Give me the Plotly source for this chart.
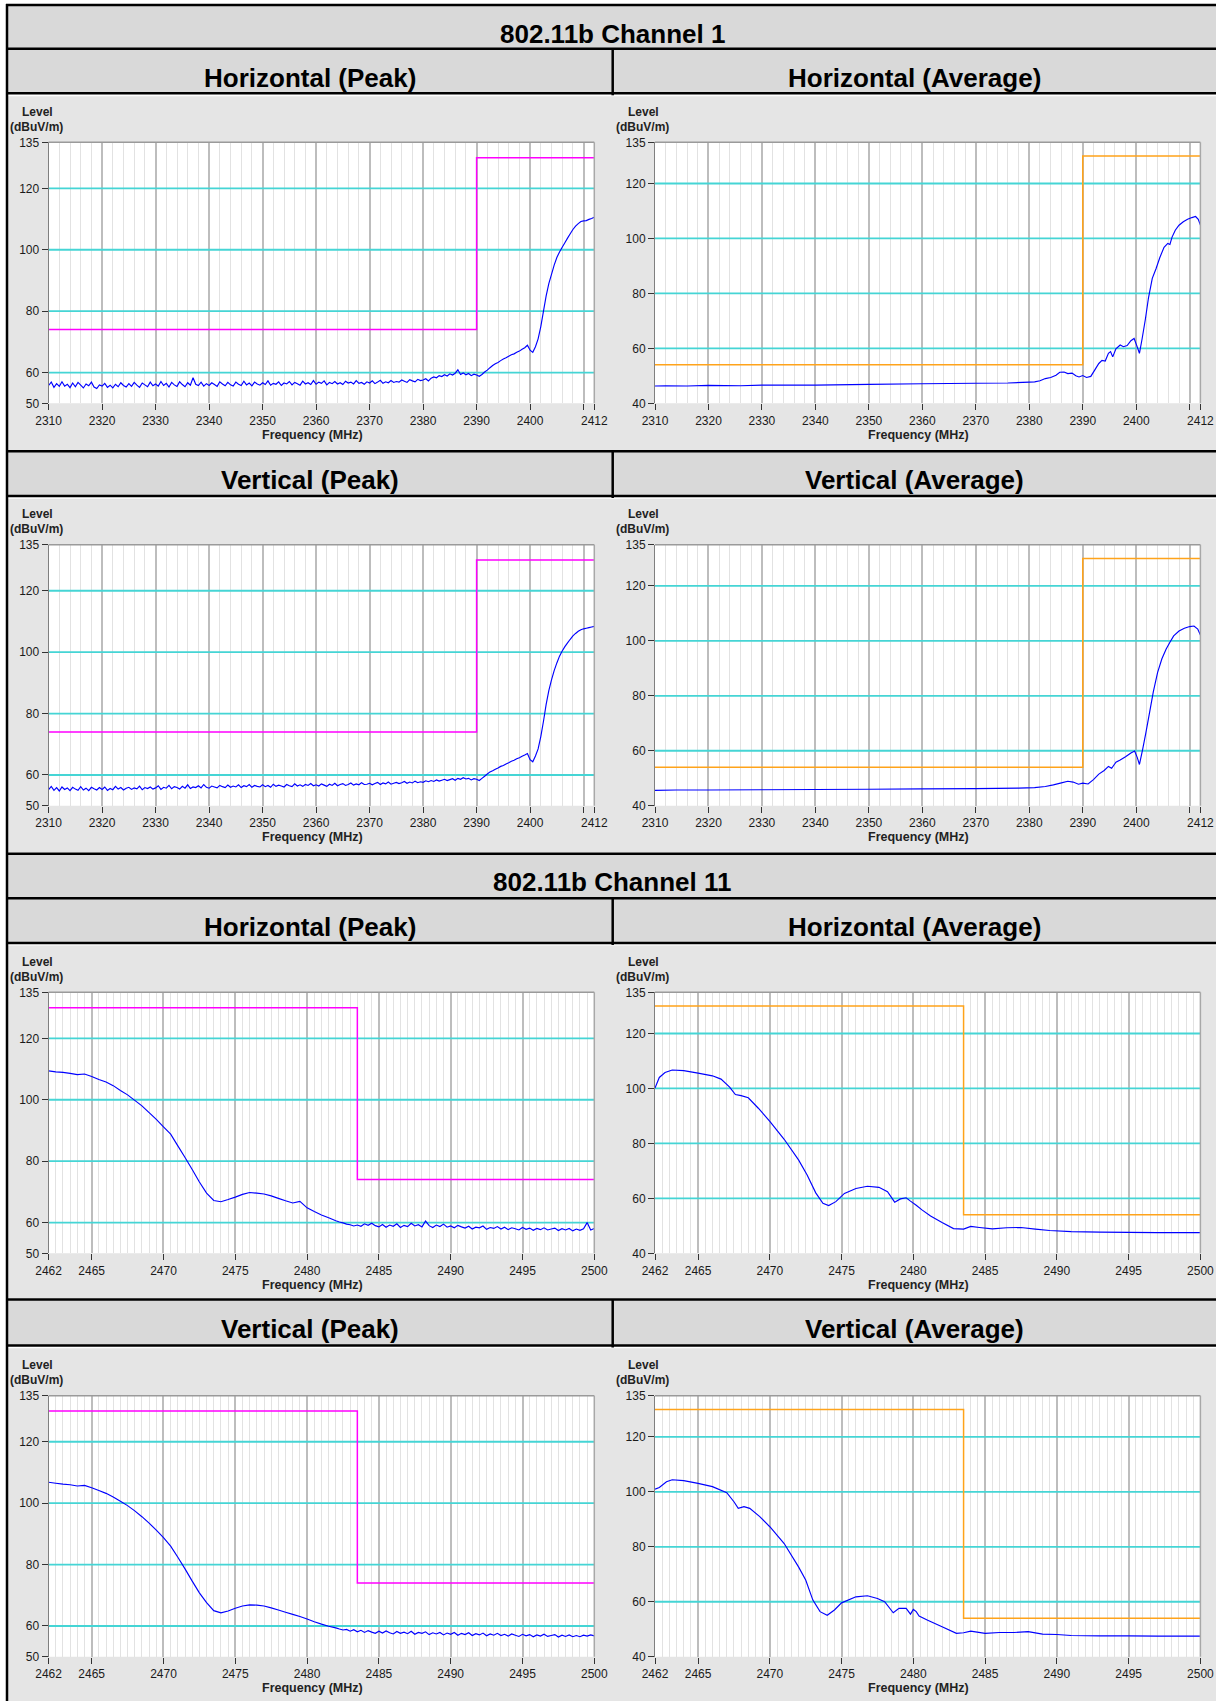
import plotly.graph_objects as go

W, H = 1216, 1701
FONT = "Liberation Sans, Arial, Helvetica, sans-serif"

# ------------------------------------------------------------------ data
# 802.11b channel 1 sweep (peak detector), MHz
F1_SWEEP = [
    2310.0, 2310.5, 2311.0, 2311.5, 2312.0, 2312.5, 2313.0, 2313.5, 2314.0, 2314.5,
    2315.0, 2315.5, 2316.0, 2316.5, 2317.0, 2317.5, 2318.0, 2318.5, 2319.0, 2319.5,
    2320.0, 2320.5, 2321.0, 2321.5, 2322.0, 2322.5, 2323.0, 2323.5, 2324.0, 2324.5,
    2325.0, 2325.5, 2326.0, 2326.5, 2327.0, 2327.5, 2328.0, 2328.5, 2329.0, 2329.5,
    2330.0, 2330.5, 2331.0, 2331.5, 2332.0, 2332.5, 2333.0, 2333.5, 2334.0, 2334.5,
    2335.0, 2335.5, 2336.0, 2336.5, 2337.0, 2337.5, 2338.0, 2338.5, 2339.0, 2339.5,
    2340.0, 2340.5, 2341.0, 2341.5, 2342.0, 2342.5, 2343.0, 2343.5, 2344.0, 2344.5,
    2345.0, 2345.5, 2346.0, 2346.5, 2347.0, 2347.5, 2348.0, 2348.5, 2349.0, 2349.5,
    2350.0, 2350.5, 2351.0, 2351.5, 2352.0, 2352.5, 2353.0, 2353.5, 2354.0, 2354.5,
    2355.0, 2355.5, 2356.0, 2356.5, 2357.0, 2357.5, 2358.0, 2358.5, 2359.0, 2359.5,
    2360.0, 2360.5, 2361.0, 2361.5, 2362.0, 2362.5, 2363.0, 2363.5, 2364.0, 2364.5,
    2365.0, 2365.5, 2366.0, 2366.5, 2367.0, 2367.5, 2368.0, 2368.5, 2369.0, 2369.5,
    2370.0, 2370.5, 2371.0, 2371.5, 2372.0, 2372.5, 2373.0, 2373.5, 2374.0, 2374.5,
    2375.0, 2375.5, 2376.0, 2376.5, 2377.0, 2377.5, 2378.0, 2378.5, 2379.0, 2379.5,
    2380.0, 2380.5, 2381.0, 2381.5, 2382.0, 2382.5, 2383.0, 2383.5, 2384.0, 2384.5,
    2385.0, 2385.5, 2386.0, 2386.5, 2387.0, 2387.5, 2388.0, 2388.5, 2389.0, 2389.5,
    2390.0, 2390.5, 2391.0, 2391.5, 2392.0, 2392.5, 2393.0, 2393.5, 2394.0, 2394.5,
    2395.0, 2395.5, 2396.0, 2396.5, 2397.0, 2397.5, 2398.0, 2398.5, 2399.0, 2399.5,
    2400.0, 2400.5, 2401.0, 2401.5, 2402.0, 2402.5, 2403.0, 2403.5, 2404.0, 2404.5,
    2405.0, 2405.5, 2406.0, 2406.5, 2407.0, 2407.5, 2408.0, 2408.5, 2409.0, 2409.5,
    2410.0, 2410.5, 2411.0, 2411.5, 2412.0]

H1_PEAK = [
    55.8, 56.9, 55.2, 56.4, 55.5, 57.0, 55.6, 56.2, 55.1, 56.6,
    55.4, 56.8, 55.9, 55.0, 56.3, 55.7, 56.9, 55.3, 54.8, 56.0,
    55.6, 56.5, 55.2, 55.9, 55.0, 56.2, 55.4, 56.7, 55.8, 55.3,
    56.4, 55.5, 56.8, 55.9, 55.2, 56.6, 56.0, 55.4, 56.9, 55.7,
    56.3, 55.6, 57.1, 55.8, 56.5, 55.3, 56.8, 56.0, 55.5, 57.0,
    56.1, 55.4, 56.7, 55.9, 58.3, 56.2, 55.8, 56.9, 55.6, 56.4,
    55.8, 56.7, 56.1, 55.5, 57.0, 56.3, 55.7, 56.8, 56.0, 55.6,
    56.9, 56.2, 55.8, 57.2, 56.0, 56.6, 55.7, 56.9, 56.3, 55.9,
    56.7, 56.1, 57.3, 55.9, 56.5, 56.2, 57.0, 55.8, 56.6, 56.3,
    57.1, 56.0, 56.8, 56.4, 55.9, 57.2, 56.3, 56.7, 56.1, 57.4,
    56.2, 56.9, 56.5, 57.3, 56.0, 56.8, 56.4, 57.1, 56.3, 56.7,
    56.1, 57.2, 56.6, 56.9, 56.3, 57.4, 56.5, 56.8, 56.2, 57.0,
    56.6, 57.3, 56.4, 56.9, 57.5, 56.5, 57.0, 56.7, 57.4, 56.8,
    57.1, 56.9, 57.6, 57.2, 56.8, 57.7, 57.3, 57.0, 57.8, 57.4,
    57.6, 58.0, 57.3, 58.2, 58.6, 58.3, 59.0, 58.7, 59.3, 58.9,
    59.6, 59.2, 59.8, 60.9, 59.4, 59.9, 59.3, 59.7, 59.0, 59.5,
    59.2, 58.8, 59.4, 60.2, 60.8, 61.6, 62.3, 62.9, 63.3, 63.9,
    64.4, 64.8, 65.3, 65.8, 66.1, 66.6, 67.0, 67.6, 68.1, 68.9,
    67.3, 66.6, 68.4, 71.0, 75.0, 80.0, 85.0, 89.0, 92.0, 95.0,
    97.5, 99.3, 100.8, 102.3, 103.8, 105.2, 106.6, 107.7, 108.5, 109.2,
    109.4, 109.5, 109.9, 110.2, 110.6]

V1_PEAK = [
    55.2, 56.3, 55.0, 55.9, 54.8, 56.1, 55.3, 55.8, 54.9, 56.0,
    55.4, 55.0, 56.2, 55.1, 55.7, 54.9, 56.0, 55.5, 55.1, 55.9,
    55.3, 56.1, 55.0, 55.6, 55.2, 56.3, 55.4, 55.9, 55.1, 55.7,
    56.0, 55.3, 55.8, 55.5, 56.4, 55.2, 55.9, 55.6, 56.1, 55.4,
    55.8, 56.5, 55.3, 56.0, 55.7, 56.6, 55.5, 56.2, 55.9, 55.4,
    56.3, 55.7, 56.8, 55.6, 56.1, 55.9, 56.5, 55.8, 56.9, 56.0,
    55.7, 56.4, 56.1, 55.8, 56.6, 56.2, 55.9, 56.7, 56.0, 56.4,
    56.1, 56.8, 55.9, 56.5, 56.2, 56.9, 56.0, 56.6, 56.3, 56.1,
    56.8, 56.2, 56.6, 56.0, 57.0, 56.3, 56.7, 56.4, 56.1, 56.9,
    56.5, 56.2, 57.1, 56.4, 56.8, 56.3, 56.9, 56.6, 57.2, 56.5,
    56.8, 56.4, 57.1, 56.7, 56.3, 57.0, 56.6, 57.3, 56.5, 56.9,
    57.2, 56.6, 56.9, 57.4, 56.7, 57.1, 56.8, 57.5, 56.9, 57.0,
    57.3, 56.8, 57.2, 57.6, 56.9, 57.4, 57.1, 57.7, 57.0, 57.3,
    57.6, 57.2, 57.5, 57.9, 57.3, 57.7, 57.4, 58.0, 57.5, 57.8,
    57.6, 58.1, 57.8, 58.2, 57.9, 58.4, 58.0, 58.3, 58.6, 58.2,
    58.5, 58.8, 58.3, 58.9, 58.6, 59.1, 58.7, 58.9, 58.4, 58.8,
    58.6, 58.2, 58.9, 59.6, 60.3, 61.0, 61.4, 61.9, 62.3, 62.8,
    63.1, 63.6, 64.0, 64.5, 64.8, 65.3, 65.6, 66.1, 66.5, 67.0,
    65.0, 64.3, 66.2, 68.5, 72.5, 77.5, 83.0, 87.5, 91.0, 94.0,
    96.5, 98.7, 100.4, 101.8, 103.0, 104.2, 105.3, 106.1, 106.8, 107.3,
    107.6, 107.8, 108.0, 108.2, 108.4]

# channel 1 average detector traces
F1_H_AVG = [2310, 2312, 2316, 2320, 2326, 2330, 2340, 2350, 2360, 2370,
            2376, 2380, 2381, 2382, 2383, 2384, 2385, 2385.7, 2386.5, 2387.2,
            2388, 2388.7, 2389.3, 2390, 2390.7, 2391.5, 2392.2, 2393, 2393.6, 2394.2,
            2394.8, 2395.2, 2395.6, 2396.2, 2397, 2397.6, 2398.3, 2399, 2399.6, 2400.1,
            2400.6, 2401.1, 2401.7, 2402.3, 2403, 2403.7, 2404.4, 2405.2, 2405.9, 2406.3,
            2406.7, 2407.3, 2408, 2408.8, 2409.6, 2410.4, 2411.1, 2411.6, 2412]
H1_AVG = [46.3, 46.4, 46.3, 46.5, 46.4, 46.6, 46.6, 46.9, 47.1, 47.3,
          47.4, 47.7, 47.8, 48.2, 49.0, 49.4, 50.2, 51.3, 51.4, 50.8,
          51.0, 50.0, 49.6, 50.1, 49.4, 49.8, 52.0, 54.5, 55.6, 55.4,
          58.2, 58.8, 56.9, 59.8, 61.2, 60.6, 61.0, 62.8, 63.6, 61.0,
          58.2, 63.5, 70.5, 78.5, 85.5, 89.0, 93.0, 96.8, 98.2, 97.8,
          100.5, 103.0, 104.8, 106.1, 107.0, 107.6, 108.0, 107.0, 104.9]

F1_V_AVG = [2310, 2314, 2320, 2330, 2340, 2350, 2360, 2370, 2378, 2381,
            2383, 2384.5, 2386, 2387.2, 2388.2, 2389.2, 2390, 2391, 2392, 2393,
            2394, 2394.8, 2395.4, 2396.2, 2397, 2398, 2399, 2399.7, 2400.2, 2400.6,
            2401.2, 2401.8, 2402.5, 2403.2, 2404, 2404.8, 2405.6, 2406.3, 2407, 2408,
            2409, 2410, 2410.8, 2411.5, 2412]
V1_AVG = [45.6, 45.7, 45.7, 45.8, 45.9, 46.0, 46.1, 46.2, 46.4, 46.6,
          47.0, 47.6, 48.3, 48.9, 48.6, 47.8, 48.2, 47.9, 49.5, 51.5,
          52.8, 54.3, 53.6, 55.8, 56.6, 57.8, 59.2, 59.9, 57.5, 55.0,
          60.5, 66.5, 74.0, 81.5, 88.5, 93.5, 97.0, 99.5, 101.8, 103.6,
          104.6, 105.2, 105.4, 104.3, 102.1]

# 802.11b channel 11 sweep (peak detector), MHz
F11_SWEEP = [
    2462, 2462.5, 2463, 2463.5, 2464, 2464.5, 2465, 2465.5, 2466, 2466.5,
    2467, 2467.5, 2468, 2468.5, 2469, 2469.5, 2470, 2470.5, 2471, 2471.5,
    2472, 2472.5, 2473, 2473.5, 2474, 2474.5, 2475, 2475.5, 2476, 2476.5,
    2477, 2477.5, 2478, 2478.5, 2479, 2479.5, 2480, 2480.5, 2481, 2481.5,
    2482, 2482.25, 2482.5, 2482.75, 2483, 2483.25, 2483.5, 2483.75,
    2484, 2484.25, 2484.5, 2484.75, 2485, 2485.25, 2485.5, 2485.75,
    2486, 2486.25, 2486.5, 2486.75, 2487, 2487.25, 2487.5, 2487.75,
    2488, 2488.25, 2488.5, 2488.75, 2489, 2489.25, 2489.5, 2489.75,
    2490, 2490.25, 2490.5, 2490.75, 2491, 2491.25, 2491.5, 2491.75,
    2492, 2492.25, 2492.5, 2492.75, 2493, 2493.25, 2493.5, 2493.75,
    2494, 2494.25, 2494.5, 2494.75, 2495, 2495.25, 2495.5, 2495.75,
    2496, 2496.25, 2496.5, 2496.75, 2497, 2497.25, 2497.5, 2497.75,
    2498, 2498.25, 2498.5, 2498.75, 2499, 2499.25, 2499.5, 2499.75,
    2500]

H11_PEAK = [
    109.4, 109.1, 108.9, 108.6, 108.2, 108.4, 107.6, 106.6, 105.8, 104.6,
    103.0, 101.6, 99.8, 98.0, 95.8, 93.6, 91.2, 88.8, 85.0, 81.2,
    77.3, 73.2, 69.6, 67.2, 66.8, 67.5, 68.3, 69.2, 69.8, 69.6,
    69.3, 68.7, 67.9, 67.1, 66.4, 66.9, 64.8, 63.6, 62.5, 61.6,
    60.6, 60.2, 59.9, 59.5, 59.3, 58.9, 59.2, 58.8,
    59.6, 59.1, 59.8, 59.0, 58.6, 59.4, 58.5, 59.2,
    58.8, 59.6, 58.4, 59.1, 58.7, 59.8, 58.9, 59.3,
    58.6, 60.5, 59.0, 58.4, 59.2, 58.7, 59.5, 58.5,
    58.9, 58.3, 59.1, 58.6, 58.2, 58.8, 57.9, 58.5,
    58.3, 58.9, 57.8, 58.4, 58.1, 58.7, 57.9, 58.5,
    57.7, 58.3, 58.0, 57.6, 58.4, 57.8, 58.2, 57.5,
    58.1, 57.7, 58.3, 57.6, 57.9, 58.2, 57.4, 58.0,
    57.6, 58.1, 57.3, 57.9, 57.5, 58.0, 60.0, 57.6,
    58.1]

V11_PEAK = [
    106.8, 106.5, 106.2, 106.0, 105.6, 105.8, 105.0, 104.1, 103.2, 102.0,
    100.6, 99.2, 97.5, 95.6, 93.5, 91.2, 88.8, 86.0, 82.4, 78.6,
    74.6, 70.8, 67.6, 65.0, 64.3, 64.9, 65.8, 66.5, 66.9, 66.8,
    66.5, 65.9, 65.2, 64.5, 63.8, 63.1, 62.3, 61.4, 60.6, 59.9,
    59.4, 59.0, 58.7, 58.9, 58.3, 58.8, 58.1, 58.6,
    57.9, 58.5, 58.0, 57.6, 58.3, 57.7, 58.4, 57.8,
    57.4, 58.2, 57.6, 58.0, 57.5, 58.3, 57.3, 57.9,
    57.6, 58.1, 57.2, 57.8, 57.4, 57.9, 57.1, 57.7,
    57.3, 57.9, 57.0, 57.6, 57.2, 57.8, 56.9, 57.5,
    57.1, 57.7, 56.8, 57.4, 57.0, 57.6, 56.9, 57.3,
    56.7, 57.4, 57.0, 56.6, 57.3, 56.8, 57.2, 56.5,
    57.1, 56.7, 57.3, 56.6, 56.9, 57.2, 56.4, 57.0,
    56.6, 57.1, 56.5, 56.9, 56.5, 57.0, 56.7, 57.1,
    56.8]

# channel 11 average detector traces
F11_H_AVG = [2462, 2462.3, 2462.7, 2463.2, 2464, 2465, 2466, 2466.6, 2467.2, 2467.6,
             2468, 2468.5, 2469.2, 2470, 2471, 2472, 2472.6, 2473.2, 2473.7, 2474.1,
             2474.6, 2475.2, 2476, 2476.8, 2477.6, 2478.2, 2478.7, 2479.1, 2479.5, 2479.8,
             2480.2, 2480.6, 2481.2, 2482, 2482.8, 2483.5, 2484, 2484.6, 2485.5, 2486.5,
             2487.5, 2488.5, 2489.5, 2491, 2493, 2495, 2497, 2500]
H11_AVG = [100.2, 104.0, 105.8, 106.7, 106.5, 105.6, 104.6, 103.4, 100.5, 97.8,
           97.4, 96.6, 92.8, 88.0, 81.5, 74.0, 68.5, 62.0, 58.2, 57.4,
           58.8, 61.8, 63.6, 64.4, 64.0, 62.4, 58.6, 59.8, 60.2, 59.0,
           57.5, 55.8, 53.6, 51.2, 49.0, 48.8, 49.8, 49.4, 48.9, 49.3,
           49.4, 48.8, 48.3, 47.9, 47.7, 47.6, 47.5, 47.5]

F11_V_AVG = [2462, 2462.3, 2462.8, 2463.2, 2464, 2465, 2466, 2467, 2467.5, 2467.8,
             2468.2, 2468.6, 2469.3, 2470, 2471, 2472, 2472.5, 2473, 2473.5, 2474,
             2474.5, 2475, 2476, 2476.8, 2477.5, 2478, 2478.6, 2479, 2479.5, 2479.8,
             2480, 2480.2, 2480.4, 2481, 2482, 2483, 2483.5, 2484, 2485, 2486,
             2487, 2488, 2489, 2490, 2491, 2493, 2495, 2497, 2500]
V11_AVG = [101.0, 101.6, 103.7, 104.4, 104.1, 103.1, 101.9, 99.7, 96.4, 94.0,
           94.6, 94.0, 91.0, 87.3, 81.2, 72.7, 67.9, 60.6, 56.4, 55.1,
           57.0, 59.6, 61.8, 62.2, 61.2, 60.0, 56.0, 57.6, 57.6, 55.5,
           57.2, 56.4, 54.8, 53.3, 50.9, 48.5, 48.7, 49.3, 48.5, 48.8,
           48.8, 49.1, 48.2, 48.1, 47.7, 47.6, 47.6, 47.5, 47.5]

# limit lines
CH1_LIMIT_F = [2310, 2390, 2412]
CH1_PEAK_LIMIT = [74, 130, 130]
CH1_AVG_LIMIT = [54, 130, 130]
CH11_LIMIT_F = [2462, 2483.5, 2500]
CH11_PEAK_LIMIT = [130, 74, 74]
CH11_AVG_LIMIT = [130, 54, 54]

# axes
CH1_RANGE = [2310, 2412]
CH1_TICKS = [2310, 2320, 2330, 2340, 2350, 2360, 2370, 2380, 2390, 2400, 2410, 2412]
CH1_TICKTEXT = ["2310", "2320", "2330", "2340", "2350", "2360", "2370", "2380",
                "2390", "2400", "", "2412"]
CH1_MINOR_STEP = 2
CH11_RANGE = [2462, 2500]
CH11_TICKS = [2462, 2465, 2470, 2475, 2480, 2485, 2490, 2495, 2500]
CH11_TICKTEXT = ["2462", "2465", "2470", "2475", "2480", "2485", "2490", "2495", "2500"]
CH11_MINOR_STEP = 0.5
PEAK_RANGE = [50, 135]
PEAK_TICKS = [50, 60, 80, 100, 120, 135]
AVG_RANGE = [40, 135]
AVG_TICKS = [40, 60, 80, 100, 120, 135]
GRID_LEVELS = [60, 80, 100, 120]

CHANNEL_TITLES = ["802.11b Channel 1", "802.11b Channel 11"]
POLARIZATIONS = ["Horizontal", "Vertical"]
DETECTORS = ["(Peak)", "(Average)"]

# ------------------------------------------------------------------ geometry (px)
COL_X = [(48.6, 594.3), (655.0, 1200.4)]
ROW_TOP = [142.3, 544.7, 992.3, 1395.7]
PLOT_H = 261.0
COL_CENTER = [310.0, 914.5]
XTITLE_X = [312.4, 918.3]
CH_TITLE_Y = [33.5, 882.5]
SUB_TITLE_Y = [77.5, 480.3, 927.0, 1329.0]
HLINES = [5.0, 48.8, 93.3, 451.3, 496.0, 853.7, 898.2, 943.0, 1299.6, 1345.5]
DIVIDERS = [(48.8, 93.3), (451.3, 496.0), (898.2, 943.0), (1299.6, 1345.5)]
HEADER_BANDS = [(5.0, 48.8), (48.8, 93.3), (451.3, 496.0), (853.7, 898.2),
                (898.2, 943.0), (1299.6, 1345.5)]
PANEL_BANDS = [(96.3, 450.0), (498.8, 852.4), (945.6, 1298.3), (1348.2, 1701.0)]

MAGENTA = "#ff00ff"
ORANGE = "#ffa31a"
CYAN = "#45d5d5"
BLUE = "#0000ff"


def X(p):
    return p / W


def Y(p):
    return 1 - p / H


panels = [
    (0, 0, F1_SWEEP, H1_PEAK, CH1_LIMIT_F, CH1_PEAK_LIMIT, "ch1", "peak"),
    (0, 1, F1_H_AVG, H1_AVG, CH1_LIMIT_F, CH1_AVG_LIMIT, "ch1", "avg"),
    (1, 0, F1_SWEEP, V1_PEAK, CH1_LIMIT_F, CH1_PEAK_LIMIT, "ch1", "peak"),
    (1, 1, F1_V_AVG, V1_AVG, CH1_LIMIT_F, CH1_AVG_LIMIT, "ch1", "avg"),
    (2, 0, F11_SWEEP, H11_PEAK, CH11_LIMIT_F, CH11_PEAK_LIMIT, "ch11", "peak"),
    (2, 1, F11_H_AVG, H11_AVG, CH11_LIMIT_F, CH11_AVG_LIMIT, "ch11", "avg"),
    (3, 0, F11_SWEEP, V11_PEAK, CH11_LIMIT_F, CH11_PEAK_LIMIT, "ch11", "peak"),
    (3, 1, F11_V_AVG, V11_AVG, CH11_LIMIT_F, CH11_AVG_LIMIT, "ch11", "avg"),
]

fig = go.Figure()
shapes = []
annotations = []
layout = dict(width=W, height=H, autosize=False,
              margin=dict(l=0, r=0, t=0, b=0, pad=0, autoexpand=False),
              paper_bgcolor="white", plot_bgcolor="rgba(0,0,0,0)", showlegend=False,
              font=dict(family=FONT, color="#1a1a1a"))

# table backgrounds
for (a, b) in HEADER_BANDS:
    shapes.append(dict(type="rect", xref="paper", yref="paper", x0=X(7), x1=X(W),
                       y0=Y(b), y1=Y(a), fillcolor="#d9d9d9", line=dict(width=0), layer="below"))
for (a, b) in PANEL_BANDS:
    shapes.append(dict(type="rect", xref="paper", yref="paper", x0=X(8), x1=X(W),
                       y0=Y(b), y1=Y(a), fillcolor="#e5e5e5", line=dict(width=0), layer="below"))

tick_font = dict(family=FONT, size=12, color="#1a1a1a")

for i, (row, col, fx, fy, lf, lv, band, det) in enumerate(panels, start=1):
    xname = "x" if i == 1 else f"x{i}"
    yname = "y" if i == 1 else f"y{i}"
    xkey = "xaxis" if i == 1 else f"xaxis{i}"
    ykey = "yaxis" if i == 1 else f"yaxis{i}"
    cx0, cx1 = COL_X[col]
    top = ROW_TOP[row]
    if band == "ch1":
        xr, xt, xtt, mstep = CH1_RANGE, CH1_TICKS, CH1_TICKTEXT, CH1_MINOR_STEP
    else:
        xr, xt, xtt, mstep = CH11_RANGE, CH11_TICKS, CH11_TICKTEXT, CH11_MINOR_STEP
    if det == "peak":
        yr, yt, lc = PEAK_RANGE, PEAK_TICKS, MAGENTA
    else:
        yr, yt, lc = AVG_RANGE, AVG_TICKS, ORANGE

    layout[xkey] = dict(domain=[X(cx0), X(cx1)], range=xr, tickmode="array", tickvals=xt,
                        ticktext=xtt, showgrid=True, gridcolor="#bdbdbd", gridwidth=1.5,
                        minor=dict(tick0=xr[0], dtick=mstep, showgrid=True,
                                   gridcolor="#e2e2e2", gridwidth=1.3),
                        ticks="outside", ticklen=6, tickwidth=1, tickcolor="#333333",
                        showline=False, zeroline=False, anchor=yname, fixedrange=True,
                        automargin=False, ticklabeloverflow="allow", tickfont=tick_font)
    layout[ykey] = dict(domain=[Y(top + PLOT_H), Y(top)], range=yr, tickmode="array",
                        tickvals=yt, showgrid=False, ticks="outside", ticklen=6, tickwidth=1,
                        tickcolor="#333333", showline=True, linecolor="#7f7f7f", linewidth=1,
                        zeroline=False, anchor=xname, fixedrange=True, automargin=False,
                        ticklabeloverflow="allow", tickfont=tick_font)

    # white plotting area
    shapes.append(dict(type="rect", xref=f"{xname} domain", yref=f"{yname} domain",
                       x0=0, x1=1, y0=0, y1=1, fillcolor="white", line=dict(width=0),
                       layer="below"))
    # top and right frame
    shapes.append(dict(type="line", xref=f"{xname} domain", yref=f"{yname} domain",
                       x0=0, x1=1, y0=1, y1=1, line=dict(color="#9a9a9a", width=1.5),
                       layer="above"))
    shapes.append(dict(type="line", xref=f"{xname} domain", yref=f"{yname} domain",
                       x0=1, x1=1, y0=0, y1=1, line=dict(color="#a8a8a8", width=1.5),
                       layer="above"))

    # cyan level grid, drawn through the axes' own scale
    for g in GRID_LEVELS:
        fig.add_trace(go.Scatter(x=xr, y=[g, g], mode="lines", xaxis=xname, yaxis=yname,
                                 line=dict(color=CYAN, width=1.8), hoverinfo="skip"))
    fig.add_trace(go.Scatter(x=lf, y=lv, mode="lines", xaxis=xname, yaxis=yname,
                             line=dict(color=lc, width=1.5, shape="hv"), hoverinfo="skip"))
    fig.add_trace(go.Scatter(x=fx, y=fy, mode="lines", xaxis=xname, yaxis=yname,
                             line=dict(color=BLUE, width=1.15, simplify=False),
                             hoverinfo="skip"))

    # panel texts
    annotations.append(dict(x=X(cx0 - 11.2), y=Y(top - 30.3), xref="paper", yref="paper",
                            text="<b>Level</b>", showarrow=False, xanchor="center",
                            yanchor="middle", font=dict(family=FONT, size=12, color="#222")))
    annotations.append(dict(x=X(cx0 - 12.5), y=Y(top - 15.3), xref="paper", yref="paper",
                            text="<b>(dBuV/m)</b>", showarrow=False, xanchor="center",
                            yanchor="middle", font=dict(family=FONT, size=12, color="#222")))
    annotations.append(dict(x=X(XTITLE_X[col]), y=Y(top + PLOT_H + 31.7), xref="paper",
                            yref="paper", text="<b>Frequency (MHz)</b>", showarrow=False,
                            xanchor="center", yanchor="middle",
                            font=dict(family=FONT, size=12.5, color="#222")))

# header texts
for k, t in enumerate(CHANNEL_TITLES):
    annotations.append(dict(x=X(612), y=Y(CH_TITLE_Y[k]), xref="paper", yref="paper",
                            text=f"<b>{t}</b>", showarrow=False, xanchor="center",
                            yanchor="middle", font=dict(family=FONT, size=26, color="black")))
for r in range(4):
    for c in range(2):
        annotations.append(dict(x=X(COL_CENTER[c]), y=Y(SUB_TITLE_Y[r]), xref="paper",
                                yref="paper",
                                text=f"<b>{POLARIZATIONS[r % 2]} {DETECTORS[c]}</b>",
                                showarrow=False, xanchor="center", yanchor="middle",
                                font=dict(family=FONT, size=26, color="black")))

# table lines
for yl in HLINES:
    shapes.append(dict(type="line", xref="paper", yref="paper", x0=X(6), x1=X(W),
                       y0=Y(yl), y1=Y(yl), line=dict(color="black", width=2.5), layer="above"))
shapes.append(dict(type="line", xref="paper", yref="paper", x0=X(7), x1=X(7),
                   y0=Y(4), y1=Y(H), line=dict(color="black", width=2.5), layer="above"))
for (a, b) in DIVIDERS:
    shapes.append(dict(type="line", xref="paper", yref="paper", x0=X(612.7), x1=X(612.7),
                       y0=Y(a), y1=Y(b + 2), line=dict(color="black", width=2.5),
                       layer="above"))

layout["shapes"] = shapes
layout["annotations"] = annotations
fig.update_layout(**layout)

PAGE_FIX = (
    "document.documentElement.style.margin='0px';"
    "document.documentElement.style.overflow='hidden';"
    "document.body.style.margin='0px';"
    "document.body.style.padding='0px';"
    "document.body.style.overflow='hidden';"
    "var gd=document.getElementById('{plot_id}');"
    "gd.style.position='fixed';gd.style.left='0px';gd.style.top='0px';"
)
fig.write_html("out.html", config={"displayModeBar": False}, post_script=PAGE_FIX)
